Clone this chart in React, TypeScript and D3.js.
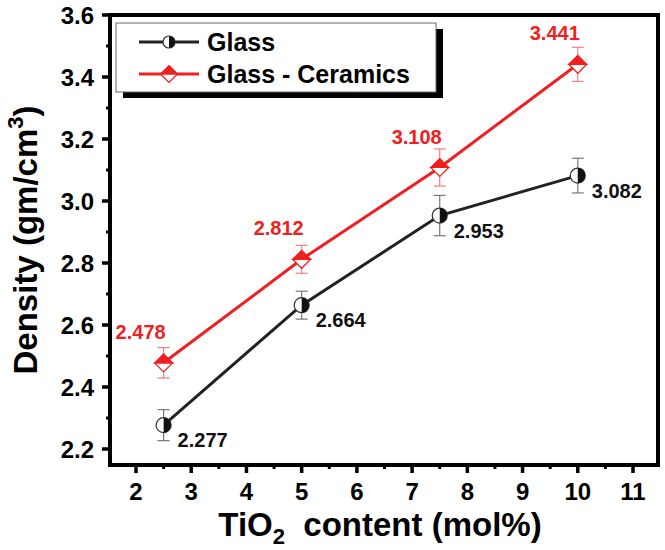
import React, { useRef, useEffect } from 'react';
import * as d3 from 'd3';

// TiO2 content (mol%) and measured densities
const tio2 = [2.5, 5, 7.5, 10];
const glassDensity = [2.277, 2.664, 2.953, 3.082];
const glassErr = [0.05, 0.045, 0.065, 0.056];
const ceramicDensity = [2.478, 2.812, 3.108, 3.441];
const ceramicErr = [0.049, 0.045, 0.06, 0.055];
const xTicks = [2, 3, 4, 5, 6, 7, 8, 9, 10, 11];
const yTicks = [2.2, 2.4, 2.6, 2.8, 3.0, 3.2, 3.4, 3.6];

const FONT = 'Liberation Sans, Arial, sans-serif';

function App() {
  const ref = useRef<SVGSVGElement>(null);

  useEffect(() => {
    const svg = d3.select(ref.current);
    svg.selectAll('*').remove();

    const left = 110, right = 658, top = 15, bottom = 465;

    const x = d3.scaleLinear().domain([2, 11]).range([136, 633]);
    const y = d3.scaleLinear().domain([2.2, 3.6]).range([449, 15]);

    const g = svg.append('g');

    // minor ticks
    const xMinor = d3.range(1.5, 11.6, 0.5).filter(v => !xTicks.includes(v) && x(v) > left + 2 && x(v) < right - 2);
    g.selectAll('.xminor').data(xMinor).enter().append('line')
      .attr('x1', d => x(d)).attr('x2', d => x(d))
      .attr('y1', bottom).attr('y2', bottom + 4)
      .attr('stroke', '#000').attr('stroke-width', 3);
    g.selectAll('.xmajor').data(xTicks).enter().append('line')
      .attr('x1', d => x(d)).attr('x2', d => x(d))
      .attr('y1', bottom).attr('y2', bottom + 8)
      .attr('stroke', '#000').attr('stroke-width', 3.5);

    const yMinor = d3.range(2.1, 3.6, 0.2).filter(v => y(v) < bottom - 2);
    g.selectAll('.yminor').data(yMinor).enter().append('line')
      .attr('x1', left - 4).attr('x2', left)
      .attr('y1', d => y(d)).attr('y2', d => y(d))
      .attr('stroke', '#000').attr('stroke-width', 3);
    g.selectAll('.ymajor').data(yTicks).enter().append('line')
      .attr('x1', left - 8).attr('x2', left)
      .attr('y1', d => y(d)).attr('y2', d => y(d))
      .attr('stroke', '#000').attr('stroke-width', 3.5);

    // tick labels
    g.selectAll('.xlab').data(xTicks).enter().append('text')
      .attr('x', d => x(d)).attr('y', 500)
      .attr('text-anchor', 'middle')
      .attr('font-family', FONT).attr('font-weight', 'bold').attr('font-size', 24)
      .text(d => d);
    g.selectAll('.ylab').data(yTicks).enter().append('text')
      .attr('x', 94).attr('y', d => y(d) + 8.5)
      .attr('text-anchor', 'end')
      .attr('font-family', FONT).attr('font-weight', 'bold').attr('font-size', 24)
      .text(d => d.toFixed(1));

    // axis titles
    const xt = g.append('text')
      .attr('x', 380).attr('y', 536)
      .attr('text-anchor', 'middle')
      .attr('font-family', FONT).attr('font-weight', 'bold').attr('font-size', 33);
    xt.append('tspan').text('TiO');
    xt.append('tspan').attr('font-size', 22).attr('dy', 8).text('2');
    xt.append('tspan').attr('dy', -8).text('\u00a0 content (mol%)');

    const yt = g.append('text')
      .attr('transform', 'translate(37,240) rotate(-90)')
      .attr('text-anchor', 'middle')
      .attr('font-family', FONT).attr('font-weight', 'bold').attr('font-size', 33);
    yt.append('tspan').text('Density (gm/cm');
    yt.append('tspan').attr('font-size', 22).attr('dy', -14).text('3');
    yt.append('tspan').attr('dy', 14).text(')');

    // error bars
    const errBars = (vals: number[], errs: number[], color: string) => {
      tio2.forEach((t, i) => {
        const cx = x(t), y1 = y(vals[i] + errs[i]), y2 = y(vals[i] - errs[i]);
        g.append('line').attr('x1', cx).attr('x2', cx).attr('y1', y1).attr('y2', y2)
          .attr('stroke', color).attr('stroke-width', 1.2);
        [y1, y2].forEach(yy => g.append('line')
          .attr('x1', cx - 6).attr('x2', cx + 6).attr('y1', yy).attr('y2', yy)
          .attr('stroke', color).attr('stroke-width', 1.2));
      });
    };
    errBars(glassDensity, glassErr, '#777');
    errBars(ceramicDensity, ceramicErr, '#f08080');

    // series lines
    const line = d3.line<number>().x((_, i) => x(tio2[i])).y(d => y(d));
    g.append('path').attr('d', line(glassDensity)).attr('fill', 'none')
      .attr('stroke', '#222').attr('stroke-width', 3);
    g.append('path').attr('d', line(ceramicDensity)).attr('fill', 'none')
      .attr('stroke', '#f02020').attr('stroke-width', 3);

    // half-filled circle marker
    const circleMarker = (cx: number, cy: number, r: number) => {
      g.append('circle').attr('cx', cx).attr('cy', cy).attr('r', r)
        .attr('fill', '#fff').attr('stroke', '#333').attr('stroke-width', 1.2);
      g.append('path')
        .attr('d', `M${cx},${cy - r} A${r},${r} 0 0 1 ${cx},${cy + r} Z`)
        .attr('fill', '#111');
    };
    // half-filled diamond marker
    const diamondMarker = (cx: number, cy: number, s: number) => {
      g.append('path')
        .attr('d', `M${cx - s},${cy} L${cx},${cy + s} L${cx + s},${cy} Z`)
        .attr('fill', '#fff').attr('stroke', '#f02020').attr('stroke-width', 1.2);
      g.append('path')
        .attr('d', `M${cx - s},${cy} L${cx},${cy - s} L${cx + s},${cy} Z`)
        .attr('fill', '#f02020').attr('stroke', '#f02020').attr('stroke-width', 1.2);
    };

    tio2.forEach((t, i) => circleMarker(x(t), y(glassDensity[i]), 7.5));
    tio2.forEach((t, i) => diamondMarker(x(t), y(ceramicDensity[i]), 9));

    // value labels
    g.selectAll('.glab').data(glassDensity).enter().append('text')
      .attr('x', (_, i) => x(tio2[i]) + 14).attr('y', d => y(d) + 22)
      .attr('font-family', FONT).attr('font-weight', 'bold').attr('font-size', 20)
      .attr('fill', '#111')
      .text(d => d.toFixed(3));
    g.selectAll('.clab').data(ceramicDensity).enter().append('text')
      .attr('x', (_, i) => x(tio2[i]) - 23).attr('y', d => y(d) - 24)
      .attr('text-anchor', 'middle')
      .attr('font-family', FONT).attr('font-weight', 'bold').attr('font-size', 20)
      .attr('fill', '#f02020')
      .text(d => d.toFixed(3));

    // frame
    g.append('rect').attr('x', left).attr('y', top)
      .attr('width', right - left).attr('height', bottom - top)
      .attr('fill', 'none').attr('stroke', '#000').attr('stroke-width', 4);

    // legend with drop shadow
    const lx = 116, ly = 23, lw = 320, lh = 69;
    g.append('rect').attr('x', lx + 7).attr('y', ly + 6).attr('width', lw).attr('height', lh)
      .attr('fill', '#000');
    g.append('rect').attr('x', lx).attr('y', ly).attr('width', lw).attr('height', lh)
      .attr('fill', '#fff').attr('stroke', '#666').attr('stroke-width', 1);
    const legendRows = [
      { label: 'Glass', color: '#222', cy: ly + 19 },
      { label: 'Glass - Ceramics', color: '#f02020', cy: ly + 51 },
    ];
    legendRows.forEach((row, i) => {
      g.append('line').attr('x1', lx + 23).attr('x2', lx + 83)
        .attr('y1', row.cy).attr('y2', row.cy)
        .attr('stroke', row.color).attr('stroke-width', 3);
      if (i === 0) circleMarker(lx + 53, row.cy, 6);
      else diamondMarker(lx + 53, row.cy, 8.5);
      g.append('text').attr('x', lx + 91).attr('y', row.cy + 9)
        .attr('font-family', FONT).attr('font-weight', 'bold').attr('font-size', 25)
        .text(row.label);
    });
  }, []);

  return <svg ref={ref} width={665} height={550} style={{ position: 'absolute', left: 0, top: 0 }} />;
}

export default App;
